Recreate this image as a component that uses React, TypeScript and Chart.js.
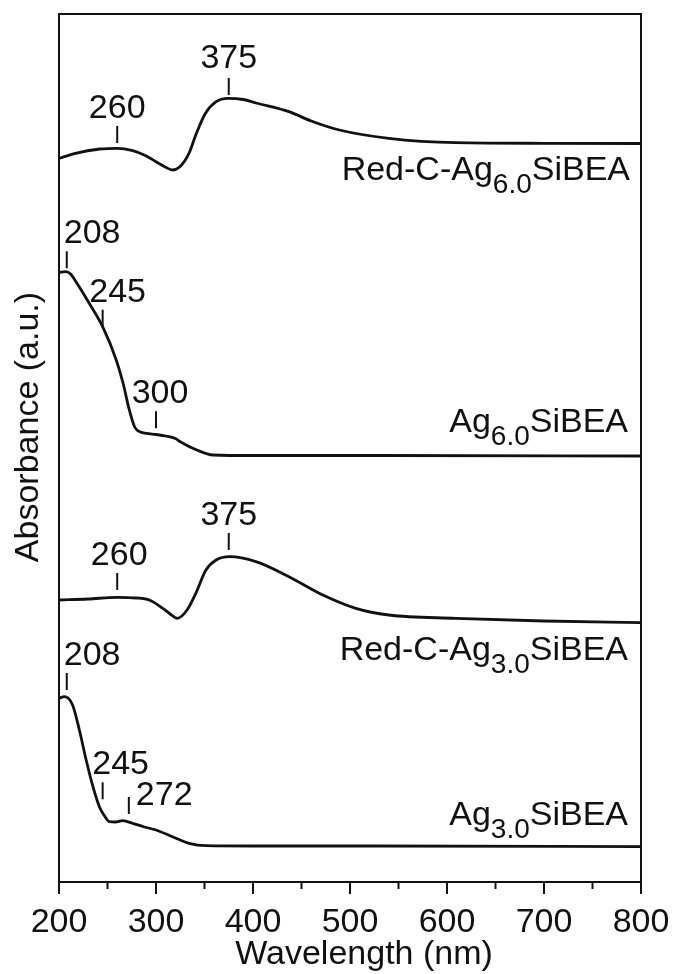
import React, { useEffect, useRef } from "react";
import { Chart, registerables } from "chart.js";

Chart.register(...registerables);

// ---- Data (wavelength in nm, absorbance in arbitrary stacked units) ----
const nmRedC60 = [200, 217, 242, 260, 276, 290, 300, 310, 317, 324, 334, 341, 351, 362, 374, 390, 403, 437, 460, 489, 540, 609, 700, 800];
const absRedC60 = [7.235, 7.287, 7.33, 7.337, 7.313, 7.26, 7.203, 7.147, 7.12, 7.147, 7.287, 7.47, 7.687, 7.803, 7.837, 7.825, 7.79, 7.703, 7.61, 7.52, 7.437, 7.393, 7.387, 7.385];

const nmAg60 = [200, 207, 212, 217.5, 231, 245, 259, 266, 272.5, 278, 284, 290, 300, 310, 320, 325, 342, 359, 400, 531, 800];
const absAg60 = [6.095, 6.103, 6.08, 6.003, 5.79, 5.553, 5.22, 4.99, 4.72, 4.55, 4.5, 4.487, 4.475, 4.46, 4.435, 4.403, 4.32, 4.27, 4.265, 4.265, 4.26];

const nmRedC30 = [200, 230, 260, 280, 293, 307, 314, 322, 332, 341, 351.5, 362, 376, 403, 437, 472, 506, 540, 609, 700, 800];
const absRedC30 = [2.82, 2.83, 2.847, 2.84, 2.82, 2.737, 2.685, 2.637, 2.72, 2.887, 3.12, 3.22, 3.253, 3.203, 3.053, 2.87, 2.737, 2.67, 2.637, 2.61, 2.593];

const nmAg30 = [200, 205.5, 214, 221, 228, 235, 241.6, 247, 252, 258, 265.6, 276, 288, 300, 317, 334, 351.5, 400, 527, 800];
const absAg30 = [1.837, 1.853, 1.77, 1.52, 1.22, 0.953, 0.753, 0.66, 0.603, 0.6, 0.613, 0.587, 0.55, 0.52, 0.453, 0.387, 0.363, 0.36, 0.36, 0.353];

const seriesNames = [
  ["Red-C-Ag", "6.0", "SiBEA"],
  ["Ag", "6.0", "SiBEA"],
  ["Red-C-Ag", "3.0", "SiBEA"],
  ["Ag", "3.0", "SiBEA"],
];

// Peak markers
const peakSeries = [0, 0, 1, 1, 1, 2, 2, 3, 3, 3];
const peakNm = [260, 375, 208, 245, 300, 260, 375, 208, 245, 272];
const peakLabels = ["260", "375", "208", "245", "300", "260", "375", "208", "245", "272"];
const peakTickBase = [7.39, 7.87, 6.137, 5.553, 4.537, 2.92, 3.32, 1.92, 0.827, 0.68];

const xTickValues = [200, 300, 400, 500, 600, 700, 800];
const xTitle = "Wavelength (nm)";
const yTitle = "Absorbance (a.u.)";

// ---- Styles / layout ----
const FONT = '"Liberation Sans", Arial, Helvetica, sans-serif';
const INK = "#111";
const peakLabelStyle = [
  { dx: 0, dy: -8, align: "center" },
  { dx: 0, dy: -10, align: "center" },
  { dx: -3, dy: -8, align: "left" },
  { dx: 15, dy: -8, align: "center" },
  { dx: 4, dy: -8, align: "center" },
  { dx: 2, dy: -8, align: "center" },
  { dx: 0, dy: -8, align: "center" },
  { dx: -3, dy: -8, align: "left" },
  { dx: 18, dy: -8, align: "center" },
  { dx: 7, dy: 8, align: "left" },
];
const nameLabelStyle = [
  { right: 630, dy: 36.5 },
  { right: 628, dy: -24.5 },
  { right: 628, dy: 37.5 },
  { right: 628, dy: -22 },
];

const overlayPlugin = {
  id: "overlay",
  afterDatasetsDraw(chart: any) {
    const ctx = chart.ctx as CanvasRenderingContext2D;
    const area = chart.chartArea;
    const xs = chart.scales.x;
    const ys = chart.scales.y;
    ctx.save();
    ctx.strokeStyle = INK;
    ctx.fillStyle = INK;
    // frame
    ctx.lineWidth = 2;
    ctx.strokeRect(area.left, area.top, area.right - area.left, area.bottom - area.top);
    // x ticks (major + minor)
    for (let v = 200; v <= 800; v += 50) {
      const px = xs.getPixelForValue(v);
      const len = v % 100 === 0 ? 12 : 7;
      ctx.beginPath();
      ctx.moveTo(px, area.bottom);
      ctx.lineTo(px, area.bottom + len);
      ctx.stroke();
    }
    // peak markers
    ctx.font = `34px ${FONT}`;
    ctx.textBaseline = "alphabetic";
    for (let i = 0; i < peakNm.length; i++) {
      const px = xs.getPixelForValue(peakNm[i]);
      const bottom = ys.getPixelForValue(peakTickBase[i]);
      const top = bottom - 17;
      ctx.lineWidth = 2;
      ctx.beginPath();
      ctx.moveTo(px, bottom);
      ctx.lineTo(px, top);
      ctx.stroke();
      const st = peakLabelStyle[i];
      ctx.textAlign = st.align as CanvasTextAlign;
      ctx.fillText(peakLabels[i], px + st.dx, top + st.dy);
    }
    // series names with subscripts
    chart.data.datasets.forEach((ds: any, i: number) => {
      const last = ds.data[ds.data.length - 1];
      const yEnd = ys.getPixelForValue(last.y);
      const [a, sub, b] = seriesNames[i];
      const st = nameLabelStyle[i];
      ctx.textAlign = "left";
      ctx.font = `34px ${FONT}`;
      const wa = ctx.measureText(a).width;
      const wb = ctx.measureText(b).width;
      ctx.font = `28px ${FONT}`;
      const ws = ctx.measureText(sub).width;
      const base = yEnd + st.dy;
      let x = st.right - (wa + ws + wb);
      ctx.font = `34px ${FONT}`;
      ctx.fillText(a, x, base);
      x += wa;
      ctx.font = `28px ${FONT}`;
      ctx.fillText(sub, x, base + 13);
      x += ws;
      ctx.font = `34px ${FONT}`;
      ctx.fillText(b, x, base);
    });
    // axis titles
    ctx.font = `34px ${FONT}`;
    ctx.textAlign = "center";
    ctx.fillText(xTitle, area.left + (area.right - area.left) / 2 + 14, area.bottom + 82);
    ctx.save();
    ctx.translate(38, area.top + (area.bottom - area.top) / 2 - 21);
    ctx.rotate(-Math.PI / 2);
    ctx.fillText(yTitle, 0, 0);
    ctx.restore();
    ctx.restore();
  },
};

function toPoints(xs: number[], ys: number[]) {
  return xs.map((x, i) => ({ x, y: ys[i] }));
}

export default function App() {
  const ref = useRef<HTMLCanvasElement>(null);
  useEffect(() => {
    const mk = (xs: number[], ys: number[]) => ({
      data: toPoints(xs, ys),
      borderColor: INK,
      borderWidth: 2.8,
      pointRadius: 0,
      fill: false,
      cubicInterpolationMode: "monotone" as const,
    });
    const chart = new Chart(ref.current!, {
      type: "line",
      data: {
        datasets: [
          mk(nmRedC60, absRedC60),
          mk(nmAg60, absAg60),
          mk(nmRedC30, absRedC30),
          mk(nmAg30, absAg30),
        ],
      },
      options: {
        responsive: false,
        animation: false,
        devicePixelRatio: 1,
        layout: { padding: { left: 59, right: 35, top: 14, bottom: 0 } },
        plugins: { legend: { display: false }, tooltip: { enabled: false } },
        scales: {
          x: {
            type: "linear",
            min: 200,
            max: 800,
            afterBuildTicks: (s: any) => {
              s.ticks = xTickValues.map((v) => ({ value: v }));
            },
            afterFit: (s: any) => {
              s.height = 92;
              s.paddingLeft = 0;
              s.paddingRight = 0;
            },
            grid: { display: false, drawTicks: false },
            border: { display: false },
            ticks: {
              autoSkip: false,
              maxRotation: 0,
              padding: 20,
              color: INK,
              font: { family: FONT, size: 34 },
            },
          },
          y: { type: "linear", min: 0, max: 8.68, display: false },
        },
      },
      plugins: [overlayPlugin],
    });
    return () => chart.destroy();
  }, []);
  return (
    <div style={{ position: "fixed", left: 0, top: 0, width: 676, height: 974, background: "#fff" }}>
      <canvas ref={ref} width={676} height={974} style={{ width: 676, height: 974, display: "block" }} />
    </div>
  );
}
